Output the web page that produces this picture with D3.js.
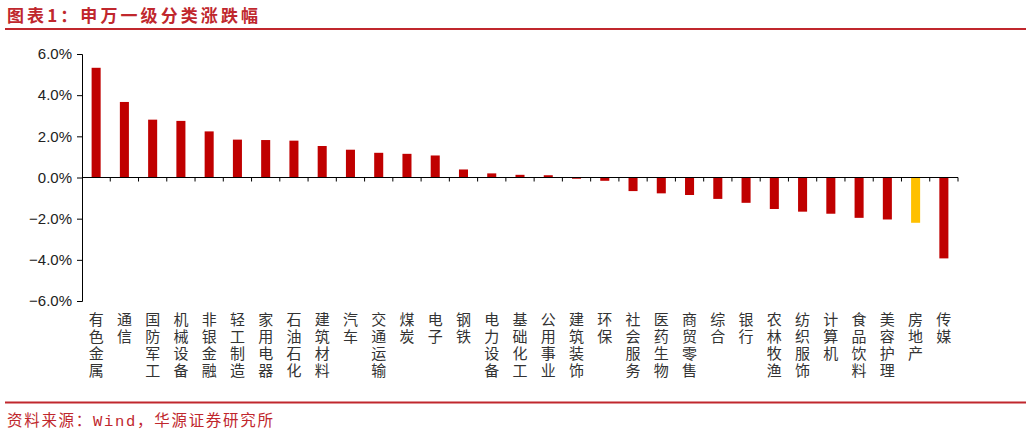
<!DOCTYPE html>
<html>
<head>
<meta charset="utf-8">
<script src="https://cdn.jsdelivr.net/npm/d3@7"></script>
<style>
  body { margin: 0; background: #fff; }
  svg { display: block; }
</style>
</head>
<body>
<div id="chart"></div>
<script>
// 申万一级行业涨跌幅（%）
var categories = ["有色金属", "通信", "国防军工", "机械设备", "非银金融", "轻工制造", "家用电器",
    "石油石化", "建筑材料", "汽车", "交通运输", "煤炭", "电子", "钢铁", "电力设备", "基础化工",
    "公用事业", "建筑装饰", "环保", "社会服务", "医药生物", "商贸零售", "综合", "银行", "农林牧渔",
    "纺织服饰", "计算机", "食品饮料", "美容护理", "房地产", "传媒"];
var values = [5.33, 3.67, 2.81, 2.75, 2.24, 1.84, 1.82, 1.79, 1.53, 1.35, 1.20, 1.15, 1.07, 0.39,
    0.20, 0.13, 0.11, -0.06, -0.16, -0.66, -0.77, -0.85, -1.04, -1.23, -1.53, -1.66, -1.76,
    -1.96, -2.04, -2.20, -3.93];
var highlighted = ["房地产"];
var yTicks = [6, 4, 2, 0, -2, -4, -6];

var title_text = "图表1：申万一级分类涨跌幅";
var source_text = "资料来源：Wind，华源证券研究所";

var width = 1031, height = 436;
var red = "#C00000", yellow = "#FFC000", theme = "#C0272D";

var svg = d3.select("#chart").append("svg")
    .attr("width", width)
    .attr("height", height);

// title + rules
svg.append("text")
    .attr("x", 7)
    .attr("y", 21.5)
    .attr("font-family", "'Noto Sans CJK SC', sans-serif")
    .attr("font-size", 17)
    .attr("font-weight", "bold")
    .attr("fill", theme)
    .attr("textLength", 251)
    .attr("lengthAdjust", "spacing")
    .text(title_text);

svg.append("line")
    .attr("x1", 5).attr("x2", 1026)
    .attr("y1", 29).attr("y2", 29)
    .attr("stroke", theme)
    .attr("stroke-width", 2);

svg.append("line")
    .attr("x1", 5).attr("x2", 1026)
    .attr("y1", 402.5).attr("y2", 402.5)
    .attr("stroke", theme)
    .attr("stroke-width", 2);

svg.append("text")
    .attr("x", 7)
    .attr("y", 426)
    .attr("font-family", "'Liberation Mono', 'Noto Sans CJK SC', monospace")
    .attr("font-size", 15.5)
    .attr("fill", theme)
    .attr("textLength", 266)
    .attr("lengthAdjust", "spacing")
    .text(source_text);

// scales
var x = d3.scaleBand()
    .domain(categories)
    .range([82, 958])
    .padding(0);

var y = d3.scaleLinear()
    .domain([-6, 6])
    .range([301, 54]);

var barWidth = x.bandwidth() * 0.32;

// bars
svg.append("g")
    .selectAll("rect")
    .data(categories)
    .enter().append("rect")
        .attr("x", function(d) { return x(d) + (x.bandwidth() - barWidth) / 2; })
        .attr("y", function(d, i) { return y(Math.max(0, values[i])); })
        .attr("width", barWidth)
        .attr("height", function(d, i) { return Math.abs(y(values[i]) - y(0)); })
        .attr("fill", function(d) { return highlighted.indexOf(d) >= 0 ? yellow : red; });

// y axis
var yAxis = svg.append("g")
    .attr("transform", "translate(82,0)")
    .call(d3.axisLeft(y)
        .tickValues(yTicks)
        .tickSize(5)
        .tickPadding(5)
        .tickFormat(function(d) { return d3.format(".1f")(d) + "%"; }));

yAxis.select(".domain").attr("stroke", "#000");
yAxis.selectAll(".tick line").attr("stroke", "#000");
yAxis.selectAll("text")
    .attr("font-family", "'Liberation Sans', Arial, sans-serif")
    .attr("font-size", 15)
    .attr("fill", "#222");

// x axis along zero, ticks on category borders
var borders = d3.range(1, categories.length + 1).map(function(i) { return 82 + i * x.step(); });

svg.append("line")
    .attr("x1", 82).attr("x2", 958)
    .attr("y1", y(0)).attr("y2", y(0))
    .attr("stroke", "#000")
    .attr("stroke-width", 1);

svg.append("g")
    .selectAll("line")
    .data(borders)
    .enter().append("line")
        .attr("x1", function(d) { return d; })
        .attr("x2", function(d) { return d; })
        .attr("y1", y(0))
        .attr("y2", y(0) + 4)
        .attr("stroke", "#000");

// vertical category labels, one text per category
svg.append("g")
    .selectAll("text")
    .data(categories)
    .enter().append("text")
        .attr("x", function(d) { return x(d) + x.bandwidth() / 2; })
        .attr("y", 312)
        .attr("font-family", "'Noto Sans CJK SC', sans-serif")
        .attr("font-size", 15)
        .attr("fill", "#333")
        .style("writing-mode", "vertical-rl")
        .style("text-orientation", "upright")
        .style("letter-spacing", "2px")
        .text(function(d) { return d; });
</script>
</body>
</html>
